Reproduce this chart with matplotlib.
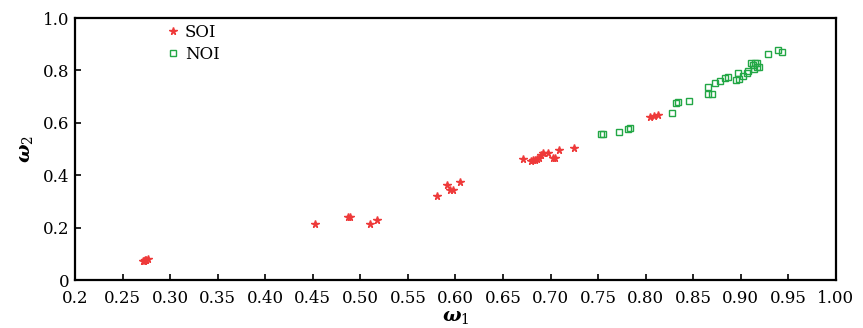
import numpy as np
import matplotlib
matplotlib.use("Agg")
import matplotlib.pyplot as plt

# SOI points (omega1, omega2)
soi_w1 = [0.272, 0.273, 0.274, 0.275, 0.277,
          0.452, 0.487, 0.489, 0.510, 0.517,
          0.581, 0.591, 0.594, 0.597, 0.605,
          0.671, 0.679, 0.682, 0.684, 0.686, 0.688, 0.690, 0.692, 0.697,
          0.703, 0.705, 0.709, 0.725,
          0.804, 0.809, 0.813]
soi_w2 = [0.072, 0.074, 0.076, 0.078, 0.082,
          0.213, 0.240, 0.242, 0.213, 0.228,
          0.322, 0.361, 0.343, 0.345, 0.373,
          0.462, 0.456, 0.458, 0.460, 0.462, 0.467, 0.476, 0.483, 0.483,
          0.466, 0.464, 0.496, 0.503,
          0.621, 0.626, 0.631]

# NOI points (omega1, omega2)
noi_w1 = [0.753, 0.755, 0.772, 0.781, 0.783,
          0.828, 0.832, 0.834, 0.846,
          0.865, 0.870, 0.865, 0.873, 0.878, 0.883, 0.887,
          0.895, 0.898, 0.897, 0.902, 0.906, 0.908,
          0.911, 0.915, 0.917, 0.913, 0.914, 0.917, 0.919,
          0.929, 0.939, 0.943]
noi_w2 = [0.556, 0.557, 0.566, 0.577, 0.581,
          0.639, 0.675, 0.679, 0.683,
          0.709, 0.709, 0.737, 0.751, 0.761, 0.770, 0.776,
          0.763, 0.767, 0.789, 0.780, 0.789, 0.799,
          0.827, 0.829, 0.827, 0.821, 0.804, 0.812, 0.814,
          0.863, 0.878, 0.869]

xticks = [0.2, 0.25, 0.30, 0.35, 0.40, 0.45, 0.50, 0.55, 0.60, 0.65,
          0.70, 0.75, 0.80, 0.85, 0.90, 0.95, 1.00]
xlabels = ["0.2"] + ["%.2f" % v for v in xticks[1:]]
yticks = [0, 0.2, 0.4, 0.6, 0.8, 1.0]
ylabels = ["0", "0.2", "0.4", "0.6", "0.8", "1.0"]

plt.rcParams["font.family"] = "DejaVu Serif"
plt.rcParams["mathtext.fontset"] = "dejavuserif"

fig = plt.figure(figsize=(8.63, 3.28), dpi=100)
ax = fig.add_axes([0.0869, 0.1463, 0.8818, 0.7987])

ax.plot(soi_w1, soi_w2, "*", color="#ee3a3a", markersize=5.5, linestyle="none", label="SOI")
ax.plot(noi_w1, noi_w2, "s", color="#22a745", markerfacecolor="none", markersize=5,
        markeredgewidth=1.0, linestyle="none", label="NOI")

ax.set_xlim(0.2, 1.0)
ax.set_ylim(0, 1.0)
ax.set_xticks(xticks)
ax.set_xticklabels(xlabels)
ax.set_yticks(yticks)
ax.set_yticklabels(ylabels)
ax.tick_params(direction="in", length=4, width=1.2, labelsize=12, pad=4,
               top=False, right=False)
ax.tick_params(axis="x", pad=7)
for s in ax.spines.values():
    s.set_linewidth(1.6)

ax.set_xlabel(r"$\boldsymbol{\omega}_1$", fontsize=14, labelpad=1)
ax.set_ylabel(r"$\boldsymbol{\omega}_2$", fontsize=14, labelpad=6)

ax.legend(loc="upper left", bbox_to_anchor=(0.105, 1.015), frameon=False,
          fontsize=12, handletextpad=0.2, handlelength=1.0, borderaxespad=0.2,
          labelspacing=0.3)

fig.savefig("out.png", dpi=100)
